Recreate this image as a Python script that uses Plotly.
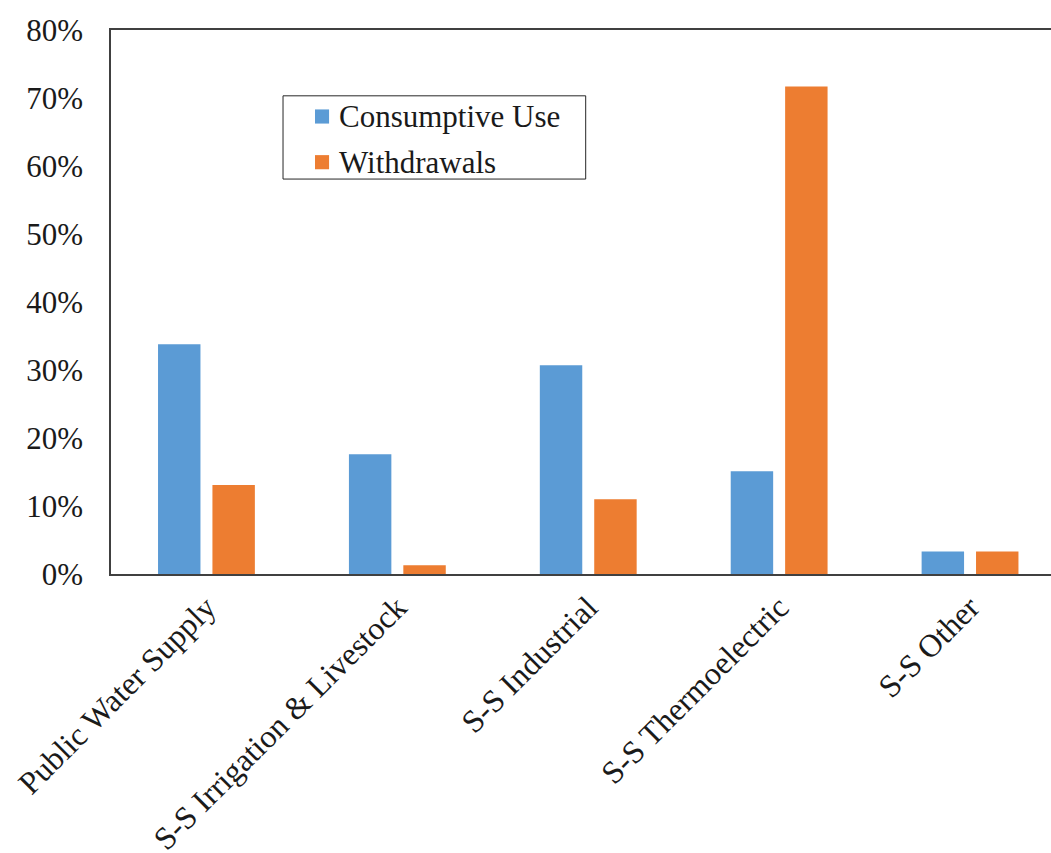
import plotly.graph_objects as go

categories = [
    "Public Water Supply",
    "S-S Irrigation & Livestock",
    "S-S Industrial",
    "S-S Thermoelectric",
    "S-S Other",
]
series_names = ["Consumptive Use", "Withdrawals"]
consumptive_use = [33.8, 17.6, 30.7, 15.1, 3.3]
withdrawals = [13.1, 1.3, 11.0, 71.7, 3.3]
y_ticks = [0, 10, 20, 30, 40, 50, 60, 70, 80]
y_tick_labels = [f"{v}%" for v in y_ticks]

FONT = "Liberation Serif, Times New Roman, serif"
TEXT = "#1a1a1a"
COLORS = ["#5B9BD5", "#ED7D31"]

fig = go.Figure()
for name, values, color in zip(series_names, [consumptive_use, withdrawals], COLORS):
    fig.add_trace(go.Bar(
        x=list(range(len(categories))), y=values, name=name,
        marker=dict(color=color, line=dict(width=0)), showlegend=False,
    ))

# Boxed legend inside the plot area (paper coordinates)
legend_shapes = [dict(
    type="rect", xref="paper", yref="paper", x0=0.183, x1=0.505, y0=0.726, y1=0.879,
    line=dict(color="#262626", width=1), fillcolor="white", layer="above",
)]
legend_notes = []
row_y = [0.841, 0.757]
for name, color, yc in zip(series_names, COLORS, row_y):
    legend_shapes.append(dict(
        type="rect", xref="paper", yref="paper", x0=0.217, x1=0.232,
        y0=yc - 0.013, y1=yc + 0.013, line=dict(width=0), fillcolor=color, layer="above",
    ))
    legend_notes.append(dict(
        xref="paper", yref="paper", x=0.240, y=yc, xanchor="left", yanchor="middle",
        text=name, showarrow=False, font=dict(family=FONT, size=31, color=TEXT),
    ))

fig.update_layout(
    template="none",
    width=1051, height=853,
    margin=dict(l=111, r=0, t=30, b=279, autoexpand=False),
    paper_bgcolor="white", plot_bgcolor="white",
    barmode="group", bargap=0.43, bargroupgap=0.22,
    font=dict(family=FONT, size=29, color=TEXT),
    showlegend=False,
    shapes=legend_shapes,
    annotations=legend_notes,
)
fig.update_xaxes(
    range=[-0.5, -0.5 + (1051 - 110.5) / 191], automargin=False,
    tickmode="array", tickvals=list(range(len(categories))), ticktext=categories,
    tickangle=-45, ticks="", showgrid=False, zeroline=False,
    showline=True, linecolor="#404040", linewidth=2, mirror=True,
    tickfont=dict(family=FONT, size=32, color=TEXT),
)
fig.update_yaxes(
    range=[0, 80], automargin=False,
    tickmode="array", tickvals=y_ticks, ticktext=y_tick_labels,
    ticks="", ticklabelstandoff=20, showgrid=False, zeroline=False,
    showline=True, linecolor="#404040", linewidth=1.5,
    tickfont=dict(family=FONT, size=31, color=TEXT),
)

fig.write_html("out.html")
